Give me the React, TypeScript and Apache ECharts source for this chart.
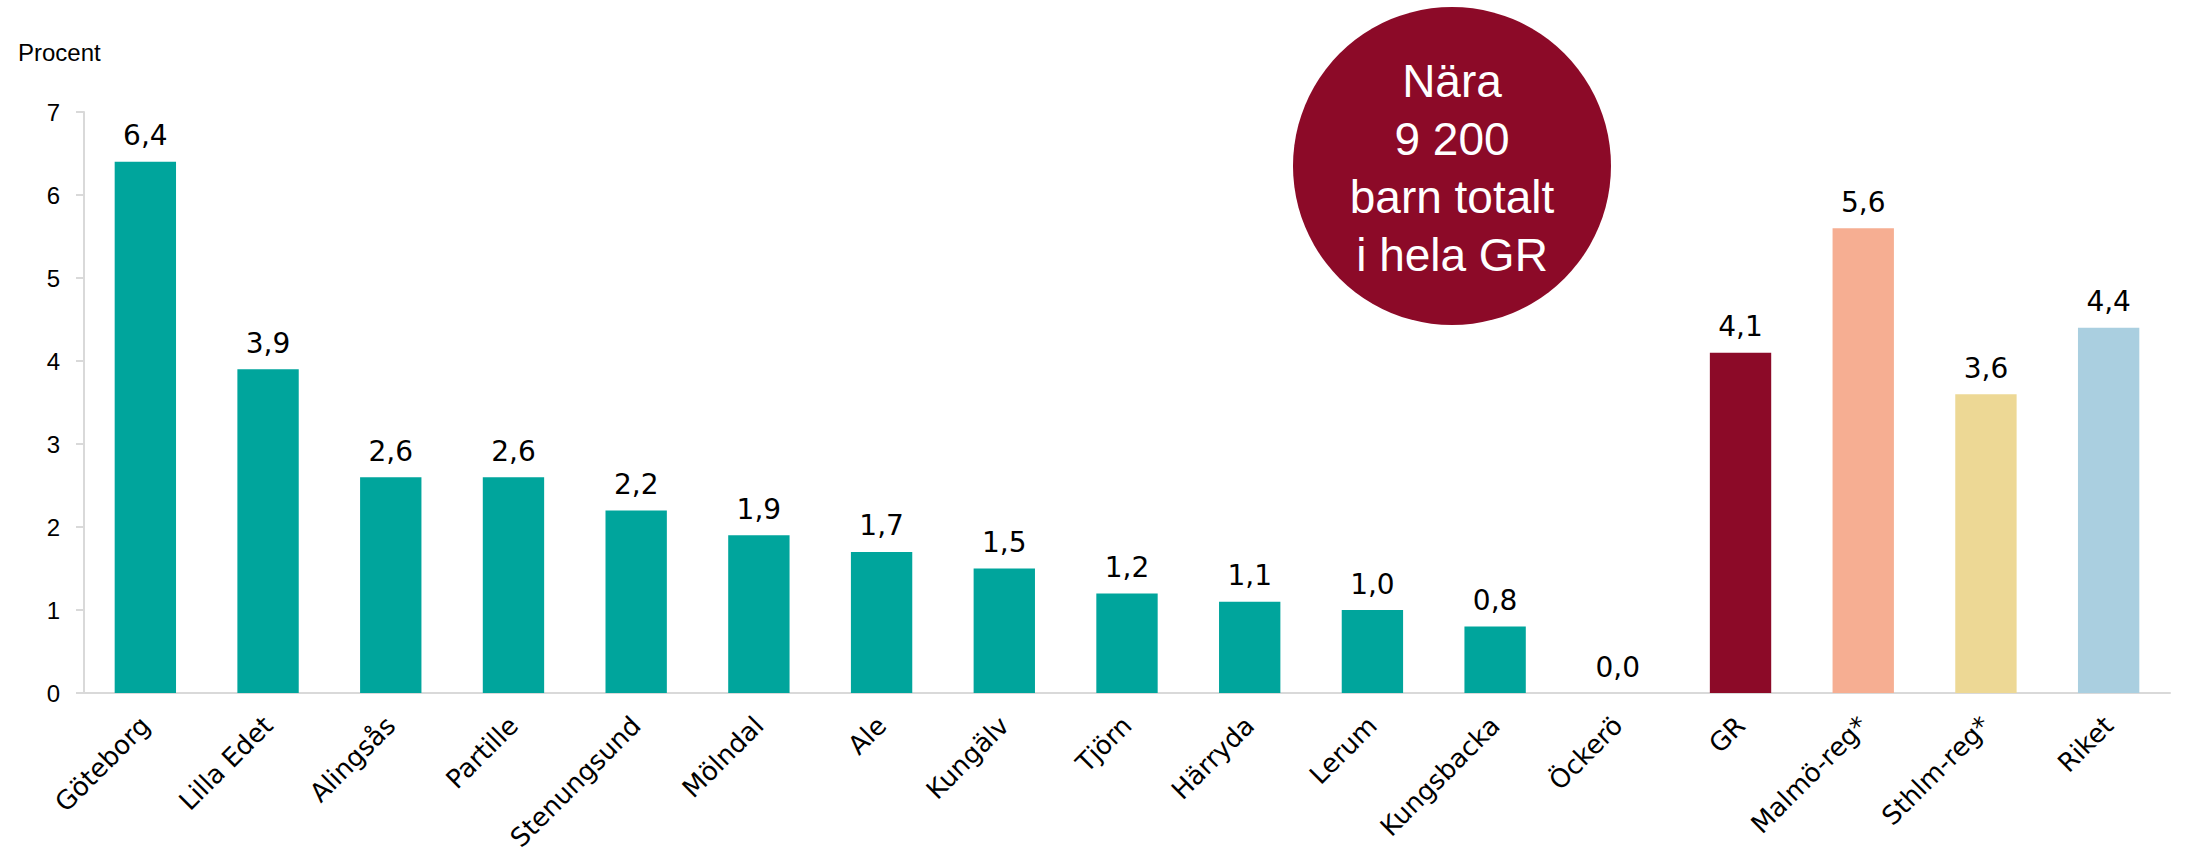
import React, { useEffect, useRef } from "react";
import * as echarts from "echarts";

const categories = [
  "Göteborg", "Lilla Edet", "Alingsås", "Partille", "Stenungsund", "Mölndal", "Ale",
  "Kungälv", "Tjörn", "Härryda", "Lerum", "Kungsbacka", "Öckerö", "GR",
  "Malmö-reg*", "Sthlm-reg*", "Riket",
];
const values = [6.4, 3.9, 2.6, 2.6, 2.2, 1.9, 1.7, 1.5, 1.2, 1.1, 1.0, 0.8, 0.0, 4.1, 5.6, 3.6, 4.4];
const barColors = [
  "#00A59C", "#00A59C", "#00A59C", "#00A59C", "#00A59C", "#00A59C", "#00A59C",
  "#00A59C", "#00A59C", "#00A59C", "#00A59C", "#00A59C", "#00A59C", "#8C0A28",
  "#F6AE92", "#EDD895", "#AACFE0",
];
const yTicks = [0, 1, 2, 3, 4, 5, 6, 7];
const unitLabel = "Procent";
const bubbleText = ["Nära", "9 200", "barn totalt", "i hela GR"];

const FONT = "Liberation Sans, Arial, sans-serif";
const WIDE = "DejaVu Sans, sans-serif";

export default function App() {
  const ref = useRef<HTMLDivElement>(null);
  useEffect(() => {
    if (!ref.current) return;
    const chart = echarts.init(ref.current, null, { renderer: "svg" });
    chart.setOption({
      animation: false,
      textStyle: { fontFamily: FONT },
      grid: {
        left: 84,
        right: 16,
        top: 112,
        bottom: 164,
        containLabel: false,
        outerBoundsMode: "none",
      },
      xAxis: {
        type: "category",
        data: categories,
        axisLine: { show: true, lineStyle: { color: "#D9D9D9", width: 2 } },
        axisTick: { show: false },
        axisLabel: {
          rotate: 45,
          interval: 0,
          fontSize: 26,
          color: "#000",
          fontFamily: WIDE,
          margin: 28,
        },
      },
      yAxis: {
        type: "value",
        min: yTicks[0],
        max: yTicks[yTicks.length - 1],
        interval: 1,
        splitLine: { show: false },
        axisLine: { show: true, lineStyle: { color: "#D9D9D9", width: 2 } },
        axisTick: { show: true, length: 8, lineStyle: { color: "#D9D9D9", width: 2 } },
        axisLabel: { fontSize: 24, color: "#000", fontFamily: FONT, margin: 24 },
      },
      series: [
        {
          type: "bar",
          barWidth: "50%",
          data: values.map((v, i) => ({ value: v, itemStyle: { color: barColors[i] } })),
          label: {
            show: true,
            position: "top",
            distance: 12,
            fontSize: 28,
            color: "#000",
            fontFamily: WIDE,
            formatter: (p: any) => Number(p.value).toFixed(1).replace(".", ","),
          },
        },
      ],
      graphic: [
        {
          type: "text",
          left: 18,
          top: 40,
          style: { text: unitLabel, fontSize: 24, fill: "#000", fontFamily: FONT },
        },
        {
          type: "circle",
          shape: { cx: 1452, cy: 166, r: 159 },
          style: { fill: "#8C0A28" },
        },
        {
          type: "text",
          x: 1452,
          y: 168,
          style: {
            text: bubbleText.join("\n"),
            fontSize: 46,
            lineHeight: 58,
            fill: "#fff",
            fontFamily: FONT,
            align: "center",
            verticalAlign: "middle",
          },
        },
      ],
    });
    return () => chart.dispose();
  }, []);
  return (
    <div
      ref={ref}
      style={{ position: "fixed", left: 0, top: 0, width: 2186, height: 857, background: "#fff" }}
    />
  );
}
